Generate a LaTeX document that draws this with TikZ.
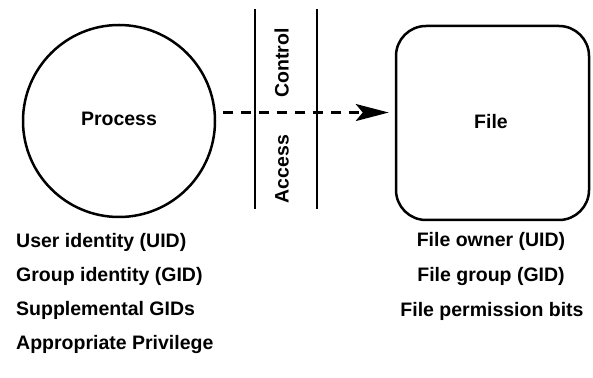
\documentclass[tikz,border=0pt]{standalone}
\usepackage{fontspec}
\setmainfont{Liberation Sans}
\usetikzlibrary{arrows.meta}
\begin{document}
\begin{tikzpicture}[x=1pt,y=1pt,
  lbl/.style={font=\bfseries\fontsize{19.5}{22}\selectfont, inner sep=0pt,
              text height=0.72em, text depth=0.2em},
  outline/.style={line width=2.5pt},
  wall/.style={line width=2.8pt},
  flow/.style={line width=2.6pt, dash pattern=on 10pt off 8pt,
               -{Stealth[length=33pt,width=17pt,inset=7pt]},
               shorten <=7pt, shorten >=6pt}]
  \useasboundingbox (0,0) rectangle (593,377);

  % the subject and the object
  \node[outline, draw, circle, minimum size=192pt, inner sep=0pt] (proc) at (119,256) {};
  \node[lbl] (proctext) at (119,254) {Process};
  \node[outline, draw, rounded corners=30pt, minimum width=193pt, minimum height=194pt,
        inner sep=0pt] (file) at (492.5,254) {};
  \node[lbl] (filetext) at (491,251) {File};

  % the access control barrier
  \coordinate (wa1) at (255,368); \coordinate (wa2) at (255,168);
  \coordinate (wb1) at (317,368); \coordinate (wb2) at (317,168);
  \draw[wall] (wa1) -- (wa2);
  \draw[wall] (wb1) -- (wb2);
  \node[lbl, rotate=90] (ctrl) at (286,314) {Control};
  \node[lbl, rotate=90] (acc) at (286,208) {Access};

  % request from the process to the file
  \draw[flow] (proc.5) -- (proc.5 -| file.west);

  % process attributes
  \node[lbl, anchor=west] (uid) at (16,132) {User identity (UID)};
  \node[lbl, anchor=west] (gid) at (16,98) {Group identity (GID)};
  \node[lbl, anchor=west] (sgid) at (16,64) {Supplemental GIDs};
  \node[lbl, anchor=west] (priv) at (16,30) {Appropriate Privilege};

  % file attributes
  \node[lbl] (fown) at (491,133) {File owner (UID)};
  \node[lbl] (fgrp) at (491,98) {File group (GID)};
  \node[lbl] (fperm) at (492,63) {File permission bits};
\end{tikzpicture}
\end{document}
